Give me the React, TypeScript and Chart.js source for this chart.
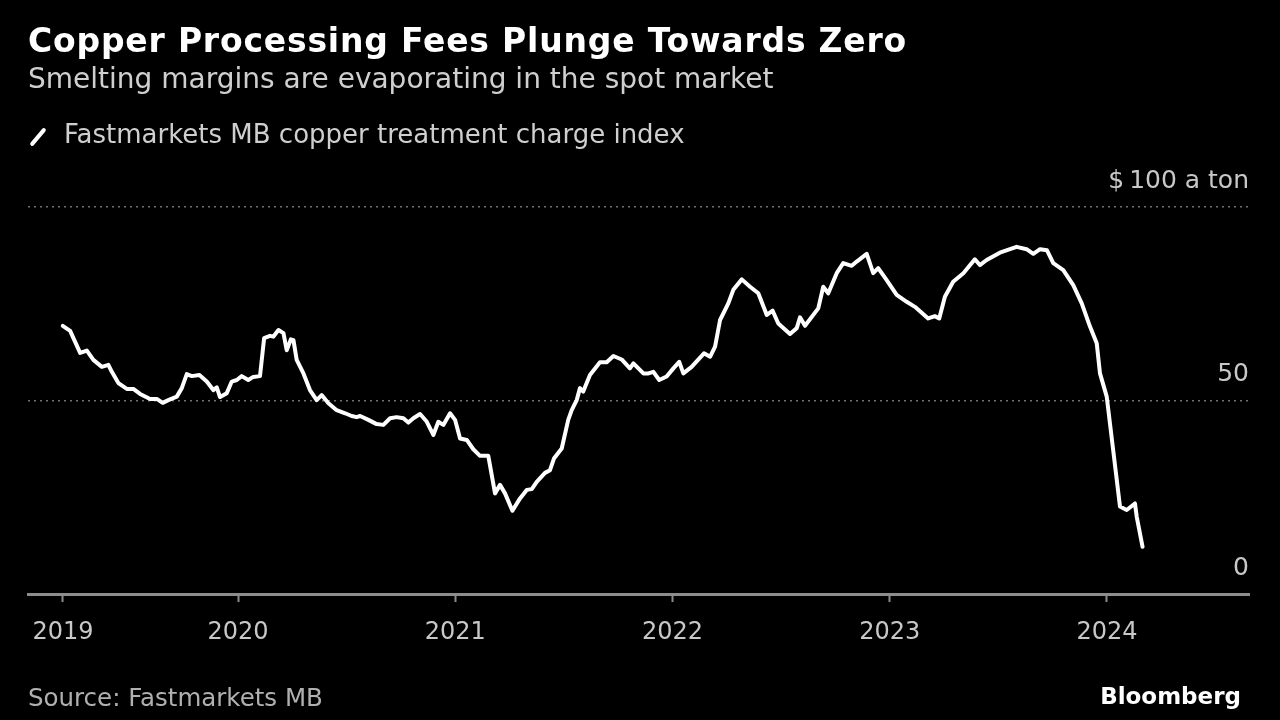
import React, { useEffect, useRef } from "react";
import { Chart, registerables } from "chart.js";

Chart.register(...registerables);

// Fastmarkets MB copper treatment charge index ($ a ton), x in decimal years
const tcYears = [
  2019.193, 2019.227, 2019.273, 2019.304, 2019.334, 2019.373, 2019.403, 2019.419, 2019.449, 2019.488,
  2019.518, 2019.549, 2019.595, 2019.626, 2019.653, 2019.679, 2019.718, 2019.741, 2019.764, 2019.787,
  2019.822, 2019.856, 2019.886, 2019.902, 2019.917, 2019.948, 2019.971, 2019.994, 2020.017, 2020.047,
  2020.07, 2020.101, 2020.12, 2020.147, 2020.162, 2020.186, 2020.209, 2020.224, 2020.243, 2020.255,
  2020.27, 2020.301, 2020.331, 2020.362, 2020.385, 2020.416, 2020.454, 2020.493, 2020.523, 2020.546,
  2020.562, 2020.6, 2020.638, 2020.669, 2020.7, 2020.73, 2020.761, 2020.784, 2020.807, 2020.838,
  2020.869, 2020.899, 2020.922, 2020.945, 2020.976, 2020.999, 2021.022, 2021.053, 2021.083, 2021.114,
  2021.152, 2021.183, 2021.206, 2021.229, 2021.263, 2021.298, 2021.329, 2021.352, 2021.375, 2021.413,
  2021.436, 2021.455, 2021.49, 2021.52, 2021.536, 2021.559, 2021.574, 2021.589, 2021.62, 2021.666,
  2021.697, 2021.728, 2021.766, 2021.804, 2021.82, 2021.866, 2021.889, 2021.912, 2021.939, 2021.973,
  2022.004, 2022.031, 2022.05, 2022.088, 2022.145, 2022.173, 2022.196, 2022.219, 2022.257, 2022.28,
  2022.319, 2022.357, 2022.395, 2022.434, 2022.461, 2022.487, 2022.541, 2022.572, 2022.587, 2022.61,
  2022.671, 2022.694, 2022.717, 2022.756, 2022.786, 2022.825, 2022.848, 2022.894, 2022.924, 2022.947,
  2022.986, 2023.032, 2023.078, 2023.116, 2023.177, 2023.208, 2023.228, 2023.254, 2023.292, 2023.339,
  2023.392, 2023.415, 2023.446, 2023.507, 2023.584, 2023.63, 2023.661, 2023.692, 2023.724, 2023.753,
  2023.799, 2023.845, 2023.884, 2023.922, 2023.953, 2023.968, 2023.999, 2024.06, 2024.091, 2024.129,
  2024.137, 2024.164,
];
const tcValues = [
  69.3, 68.0, 62.3, 62.9, 60.5, 58.7, 59.2, 57.4, 54.5, 53.0,
  53.0, 51.7, 50.4, 50.4, 49.4, 50.1, 51.0, 53.2, 56.8, 56.3,
  56.6, 54.9, 52.7, 53.4, 50.9, 51.9, 54.9, 55.3, 56.3, 55.3,
  56.1, 56.3, 66.1, 66.7, 66.5, 68.2, 67.4, 63.0, 65.8, 65.6,
  60.5, 57.0, 52.7, 50.1, 51.4, 49.3, 47.5, 46.7, 46.0, 45.7,
  46.0, 45.0, 43.9, 43.7, 45.4, 45.7, 45.4, 44.3, 45.4, 46.5,
  44.5, 41.1, 44.5, 43.7, 46.7, 45.0, 40.2, 39.8, 37.4, 35.7,
  35.7, 26.0, 28.2, 26.0, 21.5, 24.7, 26.9, 27.1, 29.0, 31.3,
  32.0, 35.1, 37.6, 45.0, 47.5, 50.1, 53.2, 52.3, 56.6, 59.9,
  59.9, 61.5, 60.6, 58.3, 59.6, 57.0, 57.0, 57.4, 55.3, 56.2,
  58.3, 60.0, 57.0, 58.7, 62.2, 61.3, 63.9, 70.8, 75.1, 78.6,
  81.3, 79.4, 77.7, 72.1, 73.2, 69.9, 67.2, 68.7, 71.5, 69.3,
  73.8, 79.4, 77.7, 82.9, 85.5, 84.8, 85.9, 87.9, 82.9, 84.2,
  81.1, 77.3, 75.5, 74.2, 71.2, 71.8, 71.2, 76.8, 80.7, 82.9,
  86.5, 85.0, 86.3, 88.2, 89.7, 89.1, 87.9, 89.1, 88.8, 85.5,
  83.7, 79.8, 75.1, 69.1, 64.8, 57.0, 51.0, 22.6, 21.7, 23.4,
  20.0, 12.2,
];

const xTickValues = [2019.194, 2020, 2021, 2022, 2023, 2024];
const xTickLabels = ["2019", "2020", "2021", "2022", "2023", "2024"];
const yTickValues = [0, 50, 100];
const yTickLabels = ["0", "50", "$\u2009100 a ton"];

const FONT = "'DejaVu Sans', sans-serif";

export default function App() {
  const canvasRef = useRef<HTMLCanvasElement>(null);

  useEffect(() => {
    document.body.style.margin = "0";
    document.body.style.background = "#000";
    const canvas = canvasRef.current;
    if (!canvas) return;
    const chart = new Chart(canvas, {
      type: "line",
      data: {
        datasets: [
          {
            label: "Fastmarkets MB copper treatment charge index",
            data: tcYears.map((x, i) => ({ x, y: tcValues[i] })),
            borderColor: "#ffffff",
            borderWidth: 4,
            pointRadius: 0,
            tension: 0,
            borderJoinStyle: "round",
            borderCapStyle: "round",
          },
        ],
      },
      options: {
        responsive: false,
        animation: false,
        layout: { padding: { left: 28, right: 31, top: 207, bottom: 66 } },
        plugins: { legend: { display: false }, tooltip: { enabled: false } },
        scales: {
          x: {
            type: "linear",
            min: 2019.033,
            max: 2024.654,
            afterBuildTicks: (s: any) => {
              s.ticks = xTickValues.map((v) => ({ value: v }));
            },
            afterFit: (s: any) => {
              s.height = 60;
            },
            ticks: {
              color: "#c8c8c8",
              font: { family: FONT, size: 24 },
              padding: 16,
              maxRotation: 0,
              autoSkip: false,
              callback: (_v: any, i: number) => xTickLabels[i],
            },
            grid: {
              drawOnChartArea: false,
              drawTicks: true,
              tickLength: 8,
              tickColor: "#8c8c8c",
              tickWidth: 2,
            },
            border: { color: "#8c8c8c", width: 3 },
          },
          y: {
            position: "right",
            min: 0,
            max: 100,
            afterBuildTicks: (s: any) => {
              s.ticks = yTickValues.map((v) => ({ value: v }));
            },
            afterFit: (s: any) => {
              s.width = 0;
            },
            ticks: {
              mirror: true,
              padding: 0,
              labelOffset: -26,
              color: "#c8c8c8",
              font: { family: FONT, size: 25 },
              callback: (_v: any, i: number) => yTickLabels[i],
            },
            grid: {
              drawTicks: false,
              color: (ctx: any) => (ctx.tick && ctx.tick.value === 0 ? "rgba(0,0,0,0)" : "#707070"),
              lineWidth: 1.5,
            },
            border: { display: false, dash: [2, 4] },
          },
        },
      },
    });
    return () => chart.destroy();
  }, []);

  const base: React.CSSProperties = {
    position: "absolute",
    whiteSpace: "nowrap",
    lineHeight: 1,
    fontFamily: FONT,
  };

  return (
    <div style={{ position: "fixed", left: 0, top: 0, width: 1280, height: 720, background: "#000", overflow: "hidden" }}>
      <canvas ref={canvasRef} width={1280} height={720} style={{ position: "absolute", left: 0, top: 0, width: 1280, height: 720 }} />
      <div style={{ ...base, left: 28, top: 24, fontSize: 33, fontWeight: 700, letterSpacing: 0.8, color: "#ffffff" }}>
        Copper Processing Fees Plunge Towards Zero
      </div>
      <div style={{ ...base, left: 28, top: 65, fontSize: 28, color: "#cfcfcf" }}>
        Smelting margins are evaporating in the spot market
      </div>
      <div style={{ position: "absolute", left: 27, top: 135, width: 22, height: 4, background: "#fff", borderRadius: 2, transform: "rotate(-50deg)", transformOrigin: "center" }} />
      <div style={{ ...base, left: 64, top: 121, fontSize: 26, color: "#cfcfcf" }}>
        Fastmarkets MB copper treatment charge index
      </div>
      <div style={{ ...base, left: 28, top: 686, fontSize: 24.5, color: "#b0b0b0" }}>
        Source: Fastmarkets MB
      </div>
      <div style={{ ...base, right: 39, top: 685, fontSize: 23, fontWeight: 700, color: "#ffffff" }}>
        Bloomberg
      </div>
    </div>
  );
}
